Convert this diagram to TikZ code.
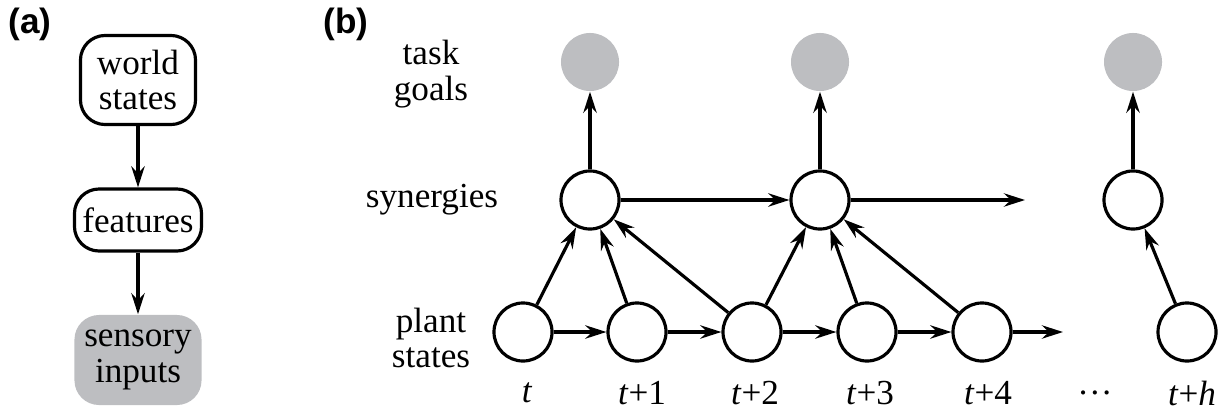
\documentclass[tikz,border=0pt]{standalone}
\usepackage{fontspec}
\setmainfont{Liberation Serif}
\setsansfont{Liberation Sans}
\usetikzlibrary{positioning}
\usetikzlibrary{arrows.meta}
\definecolor{goalgray}{RGB}{189,190,193}
\tikzset{
    boxnode/.style = {rectangle, rounded corners=7pt, line width=0.9pt, draw=black, align=center, inner sep=0pt, font=\fontsize{10}{10.2}\selectfont},
    boxnodeg/.style = {rectangle, rounded corners=7pt, draw=none, fill=goalgray, align=center, inner sep=0pt, font=\fontsize{10}{10.2}\selectfont},
    statenode/.style = {circle, line width=0.9pt, draw=black, fill=white, inner sep=0pt, minimum size=0.58cm},
    goalnode/.style = {circle, draw=none, fill=goalgray, inner sep=0pt, minimum size=0.58cm},
    rowlabel/.style = {align=center, inner sep=0pt, font=\fontsize{10}{10.2}\selectfont},
    timelabel/.style = {inner sep=0pt, font=\fontsize{10}{12}\selectfont},
    panellabel/.style = {inner sep=0pt, font=\sffamily\bfseries\fontsize{10}{12}\selectfont},
    edgea/.style = {-{Stealth[length=6pt,width=3.8pt,inset=2pt]}, line width=0.9pt, black},
}

\begin{document}
\begin{tikzpicture}[x=0.01cm,y=-0.01cm]
\useasboundingbox (0,0) rectangle (1222,412);
%
% (a)
\node[panellabel] at (30,24) (la) {(a)};
\node[boxnode, minimum width=1.15cm, minimum height=0.89cm] at (138,80) (world) {world\\states};
\node[boxnode, minimum width=1.27cm, minimum height=0.62cm] at (138,220) (feat) {features};
\node[boxnodeg, minimum width=1.27cm, minimum height=0.90cm] at (138,360) (sens) {sensory\\inputs};
%
\draw[edgea] (world) edge (feat);
\draw[edgea] (feat) edge (sens);
%
% (b)
\node[panellabel] at (346,24) (lb) {(b)};
\node[rowlabel] at (431,74) (rgoal) {task\\goals};
\node[rowlabel] at (432,200) (rsyn) {synergies};
\node[rowlabel] at (431,338) (rplant) {plant\\states};
%
\node[goalnode] at (590,62) (g1) {};
\node[goalnode] at (820,62) (g2) {};
\node[goalnode] at (1133,62) (g3) {};
%
\node[statenode] at (590,200) (s1) {};
\node[statenode] at (820,200) (s2) {};
\node[statenode] at (1133,200) (s3) {};
\coordinate (send) at (1025,200);
%
\node[statenode] at (523,332) (p1) {};
\node[statenode] at (637,332) (p2) {};
\node[statenode] at (752,332) (p3) {};
\node[statenode] at (867,332) (p4) {};
\node[statenode] at (982,332) (p5) {};
\node[statenode] at (1187,332) (p6) {};
\coordinate (pend) at (1063,332);
%
\node[timelabel] at (527,393) (t0) {\textit{t}};
\node[timelabel] at (642,393) (t1) {\textit{t}+1};
\node[timelabel] at (755,393) (t2) {\textit{t}+2};
\node[timelabel] at (870,393) (t3) {\textit{t}+3};
\node[timelabel] at (988,393) (t4) {\textit{t}+4};
\node[timelabel] at (1095,393) (tdots) {\dots};
\node[timelabel] at (1192,393) (th) {\textit{t}+\textit{h}};
%
\draw[edgea] (s1) edge (g1);
\draw[edgea] (s2) edge (g2);
\draw[edgea] (s3) edge (g3);
\draw[edgea] (s1) edge (s2);
\draw[edgea] (s2) edge (send);
%
\draw[edgea] (p1) edge (p2);
\draw[edgea] (p2) edge (p3);
\draw[edgea] (p3) edge (p4);
\draw[edgea] (p4) edge (p5);
\draw[edgea] (p5) edge (pend);
%
\draw[edgea] (p1) edge (s1);
\draw[edgea] (p2) edge (s1);
\draw[edgea] (p3) edge (s1);
\draw[edgea] (p3) edge (s2);
\draw[edgea] (p4) edge (s2);
\draw[edgea] (p5) edge (s2);
\draw[edgea] (p6) edge (s3);

\end{tikzpicture}
\end{document}
